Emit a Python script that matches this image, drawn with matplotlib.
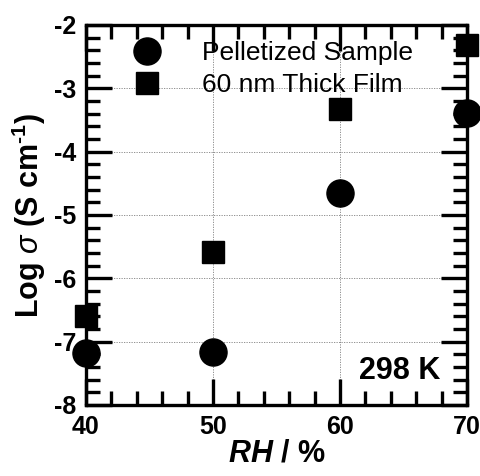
import numpy as np
import matplotlib.pyplot as plt
import matplotlib as mpl
from matplotlib.ticker import MultipleLocator

mpl.rcParams["font.family"] = ["Liberation Sans", "DejaVu Sans"]
mpl.rcParams["axes.unicode_minus"] = False
mpl.rcParams["mathtext.fontset"] = "custom"
mpl.rcParams["mathtext.it"] = "Liberation Sans:italic"
mpl.rcParams["mathtext.bfit"] = "Liberation Sans:italic:bold"
mpl.rcParams["mathtext.rm"] = "Liberation Sans:bold"

rh = [40, 50, 60, 70]
log_sigma_pellet = [-7.18, -7.16, -4.65, -3.39]
log_sigma_film = [-6.59, -5.58, -3.32, -2.32]
label_pellet = "Pelletized Sample"
label_film = "60 nm Thick Film"

fig = plt.figure(figsize=(4.8, 4.76), dpi=100)
ax = fig.add_axes([86 / 480, 1 - 405 / 476, 381 / 480, 380 / 476])

kw = {"linestyle": "none", "color": "black", "clip_on": False, "zorder": 5}
ax.plot(rh, log_sigma_pellet, marker="o", markersize=19.5, label=label_pellet, **kw)
ax.plot(rh, log_sigma_film, marker="s", markersize=16.5, label=label_film, **kw)

ax.set_xlim(40, 70)
ax.set_ylim(-8, -2)
ax.xaxis.set_major_locator(MultipleLocator(10))
ax.xaxis.set_minor_locator(MultipleLocator(2))
ax.yaxis.set_major_locator(MultipleLocator(1))
ax.yaxis.set_minor_locator(MultipleLocator(0.2))
ax.grid(True, which="major", color="gray", linestyle=(0, (1.5, 1.5)), linewidth=0.6)

for s in ax.spines.values():
    s.set_linewidth(2.4)
ax.tick_params(which="both", direction="in", top=True, right=True, width=2.4)
ax.tick_params(which="major", length=19, pad=7, labelsize=18)
ax.tick_params(which="minor", length=10)
for lab in ax.get_xticklabels() + ax.get_yticklabels():
    lab.set_fontweight("bold")

ax.set_xlabel(r"$\mathbfit{RH}$ / %", fontsize=22, fontweight="bold", labelpad=0)
ax.set_ylabel(r"Log $\mathit{\sigma}$ (S cm$^{\text{-}1}$)", fontsize=22, fontweight="bold",
              labelpad=4)

ax.legend(loc="upper left", bbox_to_anchor=(0.062, 1.0), frameon=False, fontsize=19,
          handletextpad=1.3, labelspacing=0.32, borderaxespad=0.2, numpoints=1,
          handlelength=1.6)

ax.text(0.93, 0.09, "298 K", transform=ax.transAxes, ha="right", va="center",
        fontsize=22, fontweight="bold")

fig.savefig("out.png", dpi=100)
